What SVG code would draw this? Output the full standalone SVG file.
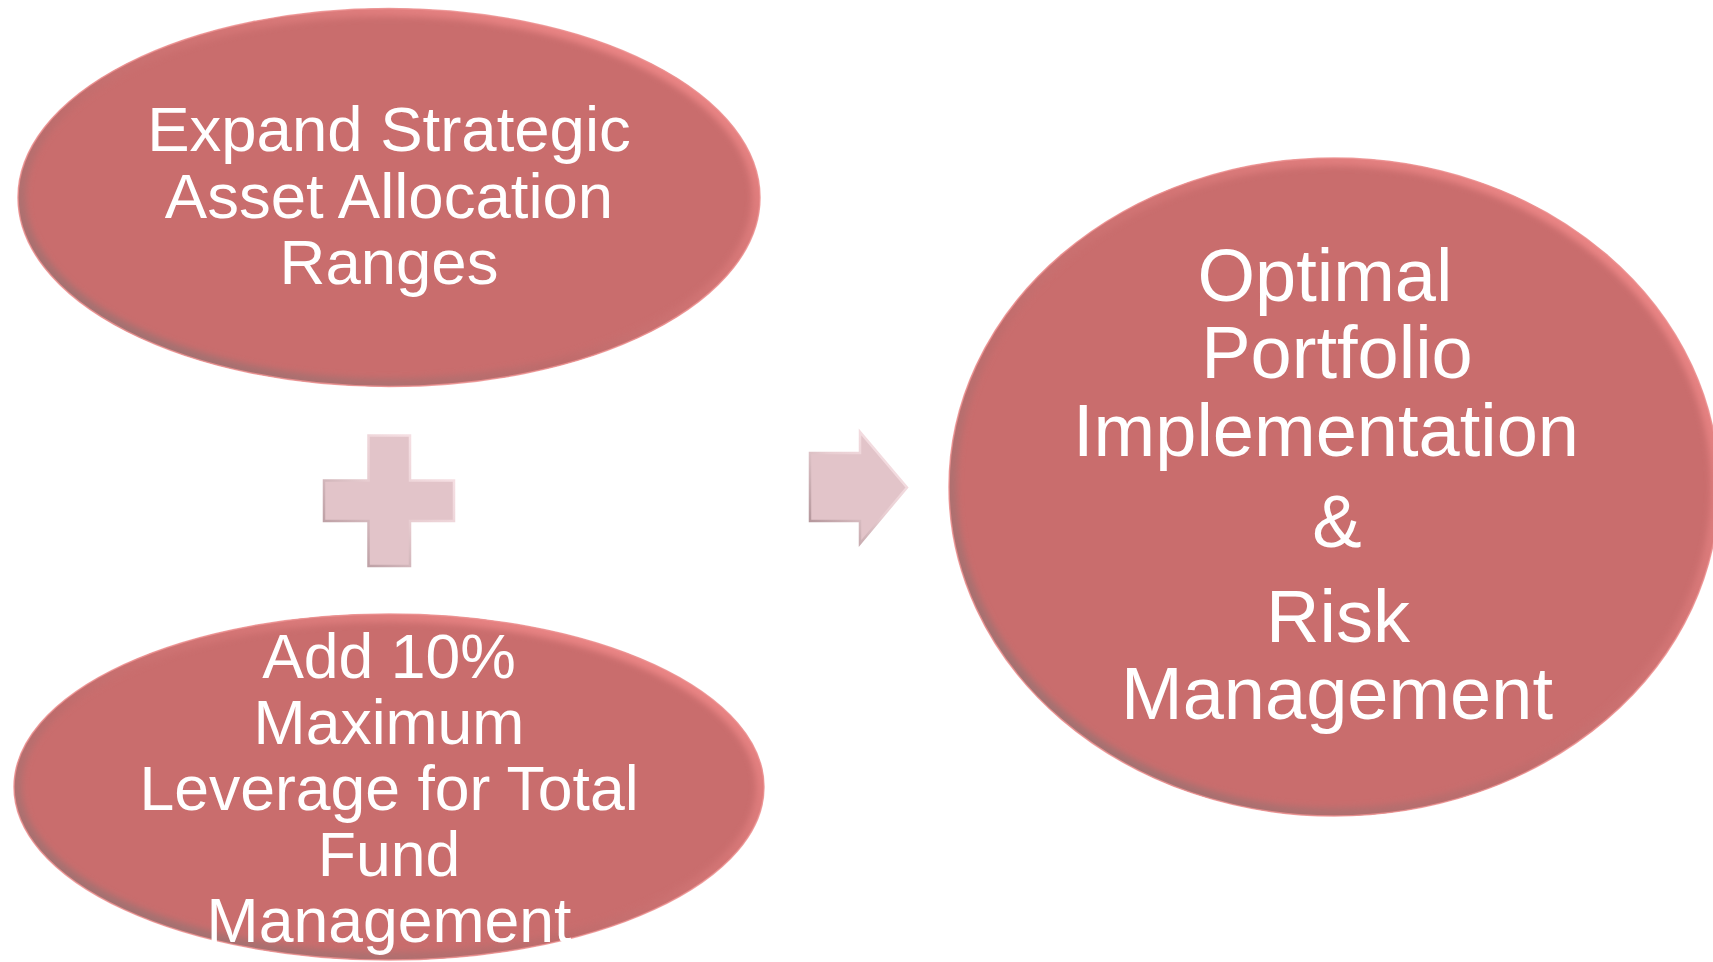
<svg xmlns="http://www.w3.org/2000/svg" width="1713" height="962" viewBox="0 0 1713 962">
  <style>
    .oval { fill: #C96D6D; }
    .rim { fill: none; stroke: url(#rimGrad); stroke-width: 16; }
    .edge { fill: none; stroke: #EC9090; stroke-width: 1.5; stroke-opacity: 0.85; }
    .label { font-family: "Liberation Sans", Arial, sans-serif; fill: #FFFFFF; text-anchor: middle; }
    .sym { fill: #E2C4C9; stroke: url(#symGrad); stroke-width: 2.5; stroke-linejoin: miter; }
  </style>
  <defs>
    <linearGradient id="rimGrad" x1="1" y1="0" x2="0" y2="1">
      <stop offset="0" stop-color="#F88E8E"/>
      <stop offset="0.4" stop-color="#D27474"/>
      <stop offset="0.6" stop-color="#C06C6C"/>
      <stop offset="1" stop-color="#947474"/>
    </linearGradient>
    <linearGradient id="symGrad" x1="1" y1="0" x2="0" y2="1">
      <stop offset="0" stop-color="#FCE8EC"/>
      <stop offset="0.5" stop-color="#E8CDD1"/>
      <stop offset="1" stop-color="#A98B90"/>
    </linearGradient>
    <filter id="blur" x="-10%" y="-10%" width="120%" height="120%">
      <feGaussianBlur stdDeviation="3"/>
    </filter>
    <clipPath id="c1"><ellipse cx="389" cy="197.5" rx="371" ry="189"/></clipPath>
    <clipPath id="c2"><ellipse cx="389" cy="787" rx="375" ry="173"/></clipPath>
    <clipPath id="c3"><ellipse cx="1334" cy="487" rx="385" ry="329"/></clipPath>
  </defs>

  <rect width="1713" height="962" fill="#FFFFFF"/>

  <g id="node-expand">
    <ellipse class="oval" cx="389" cy="197.5" rx="371" ry="189"/>
    <g clip-path="url(#c1)"><ellipse class="rim" cx="389" cy="197.5" rx="371" ry="189" filter="url(#blur)"/></g>
    <ellipse class="edge" cx="389" cy="197.5" rx="371" ry="189"/>
    <text class="label" font-size="63.5"><tspan x="389" y="151">Expand Strategic</tspan><tspan x="389" y="217.5">Asset Allocation</tspan><tspan x="389" y="284">Ranges</tspan></text>
  </g>

  <g id="node-leverage">
    <ellipse class="oval" cx="389" cy="787" rx="375" ry="173"/>
    <g clip-path="url(#c2)"><ellipse class="rim" cx="389" cy="787" rx="375" ry="173" filter="url(#blur)"/></g>
    <ellipse class="edge" cx="389" cy="787" rx="375" ry="173"/>
    <text class="label" font-size="62.5"><tspan x="389" y="678">Add 10%</tspan><tspan x="389" y="744">Maximum</tspan><tspan x="389" y="810">Leverage for Total</tspan><tspan x="389" y="876">Fund</tspan><tspan x="389" y="942">Management</tspan></text>
  </g>

  <g id="node-optimal">
    <ellipse class="oval" cx="1334" cy="487" rx="385" ry="329"/>
    <g clip-path="url(#c3)"><ellipse class="rim" cx="1334" cy="487" rx="385" ry="329" filter="url(#blur)"/></g>
    <ellipse class="edge" cx="1334" cy="487" rx="385" ry="329"/>
    <text class="label" font-size="74"><tspan x="1325" y="301">Optimal</tspan><tspan x="1337" y="378">Portfolio</tspan><tspan x="1326" y="455.5">Implementation</tspan><tspan x="1337" y="547">&amp;</tspan><tspan x="1338" y="641.5">Risk</tspan><tspan x="1337" y="719">Management</tspan></text>
  </g>

  <g id="connectors">
    <path id="plus" class="sym" d="M368.5,435.5 H410 V480.5 H454 V521 H410 V566 H368.5 V521 H324 V480.5 H368.5 Z"/>
    <path id="arrow" class="sym" d="M810,453 H860 V432 L907,487.5 L860,543.5 V521 H810 Z"/>
  </g>
</svg>
